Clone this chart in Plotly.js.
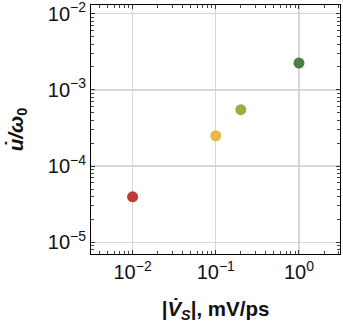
<!DOCTYPE html>
<html>
<head>
<meta charset="utf-8">
<script src="https://cdn.plot.ly/plotly-3.0.1.min.js"></script>
<style>html,body{margin:0;padding:0;background:#fff;}#chart{width:343px;height:323px;}</style>
</head>
<body>
<div id="chart"></div>
<script>
const xValues = [0.01, 0.1, 0.2, 1.0];
const yValues = [3.95e-5, 2.5e-4, 5.5e-4, 2.25e-3];
const pointColors = ['#c0393a', '#e6b94b', '#9fac3d', '#4b7d46'];

const xTickVals = [0.01, 0.1, 1];
const xTickText = ['10<sup>−2</sup>', '10<sup>−1</sup>', '10<sup>0</sup>'];
const yTickVals = [1e-5, 1e-4, 1e-3, 1e-2];
const yTickText = ['10<sup>−5</sup>', '10<sup>−4</sup>', '10<sup>−3</sup>', '10<sup>−2</sup>'];

const xTitle = '<b>|<i>V̇</i><sub><i>S</i></sub>|, mV/ps</b>';
const yTitle = '<b><i>u̇/ω</i><sub>0</sub></b>';

const fam = 'Arial, "Liberation Sans", sans-serif';
const tickFont = {family: fam, size: 20, color: '#111'};
const titleFont = {family: fam, size: 20.5, color: '#111'};

const trace = {
  x: xValues, y: yValues, type: 'scatter', mode: 'markers',
  marker: {size: 11, color: pointColors, line: {width: 0}},
  hoverinfo: 'none', showlegend: false
};

const axisCommon = {
  type: 'log', showline: true, linecolor: '#000', linewidth: 1, mirror: 'ticks',
  ticks: 'inside', ticklen: 4, tickwidth: 1, tickcolor: '#333',
  showgrid: true, gridcolor: '#d6d6d6', gridwidth: 1.4, zeroline: false,
  tickmode: 'array', tickfont: tickFont, ticklabeloverflow: 'allow',
  minor: {ticks: 'inside', ticklen: 3, tickwidth: 1, tickcolor: '#444', dtick: 'D1', showgrid: false}
};

const layout = {
  width: 343, height: 323,
  margin: {l: 91, r: 3, t: 5, b: 69},
  paper_bgcolor: '#fff', plot_bgcolor: '#fff',
  font: tickFont,
  showlegend: false,
  xaxis: Object.assign({}, axisCommon, {
    range: [-2.5, 0.493], tickvals: xTickVals, ticktext: xTickText,
    title: {text: xTitle, font: titleFont, standoff: 19}
  }),
  yaxis: Object.assign({}, axisCommon, {
    range: [-5.154, -1.886], tickvals: yTickVals, ticktext: yTickText,
    title: {text: yTitle, font: titleFont, standoff: 18}
  })
};

Plotly.newPlot('chart', [trace], layout, {staticPlot: true, displayModeBar: false});
</script>
</body>
</html>
